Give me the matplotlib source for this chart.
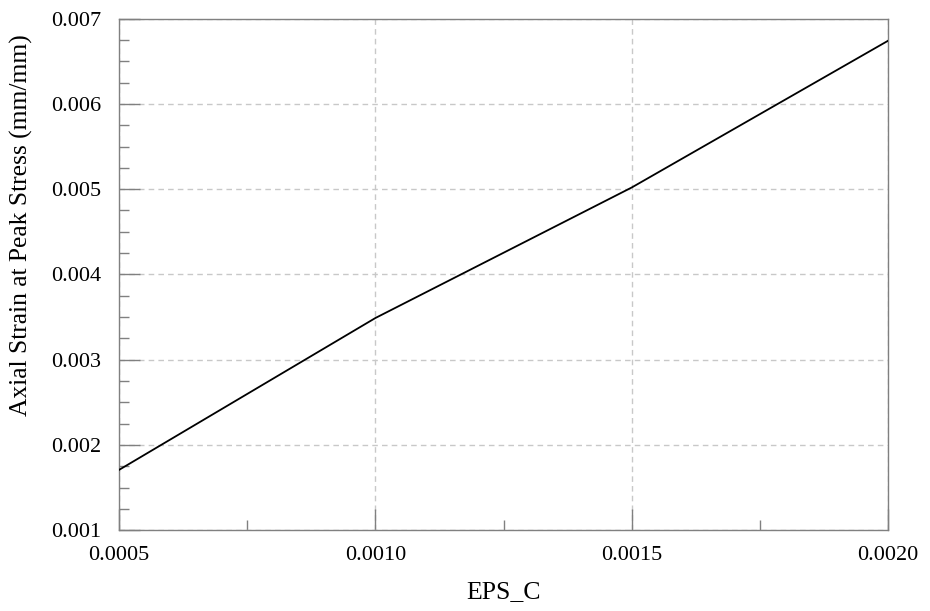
import matplotlib
matplotlib.use("Agg")
import matplotlib.pyplot as plt
from matplotlib.ticker import MultipleLocator, FormatStrFormatter

# eps_c vs axial strain at peak stress
eps_c = [0.0005, 0.0010, 0.0015, 0.0020]
strain_peak = [0.00171, 0.00349, 0.00502, 0.00674]

plt.rcParams["font.family"] = ["Liberation Serif", "DejaVu Serif"]

fig = plt.figure(figsize=(9.3, 6.11), dpi=100)
ax = fig.add_axes([0.128, 0.1318, 0.827, 0.8379])

ax.plot(eps_c, strain_peak, color="black", linewidth=1.3, zorder=3)

ax.set_xlim(0.0005, 0.0020)
ax.set_ylim(0.001, 0.007)
ax.xaxis.set_major_locator(MultipleLocator(0.0005))
ax.xaxis.set_minor_locator(MultipleLocator(0.00025))
ax.yaxis.set_major_locator(MultipleLocator(0.001))
ax.yaxis.set_minor_locator(MultipleLocator(0.00025))
ax.xaxis.set_major_formatter(FormatStrFormatter("%.4f"))
ax.yaxis.set_major_formatter(FormatStrFormatter("%.3f"))

gray = "#808080"
for s in ax.spines.values():
    s.set_color(gray)
    s.set_linewidth(1.0)

ax.tick_params(which="major", direction="in", length=15, width=1.0,
               color=gray, labelsize=16, top=False, right=False)
ax.tick_params(which="minor", direction="in", length=7, width=1.0,
               color=gray, top=False, right=False)
ax.tick_params(axis="y", which="major", pad=13)
ax.tick_params(axis="x", which="major", pad=11)

ax.grid(True, which="major", color="#c8c8c8", linestyle=(0, (4, 3)), linewidth=1.0)

ax.set_xlabel("EPS_C", fontsize=18.5, labelpad=12)
ax.set_ylabel("Axial Strain at Peak Stress (mm/mm)", fontsize=18.4)
ax.yaxis.set_label_coords(-0.112, 0.596)

fig.savefig("out.png", dpi=100)
